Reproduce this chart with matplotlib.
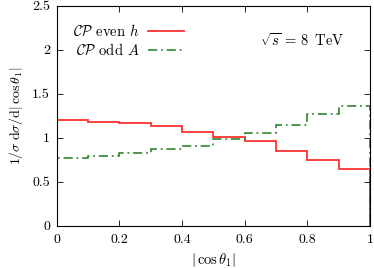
import matplotlib
matplotlib.use("Agg")
import matplotlib.pyplot as plt
import numpy as np

plt.rcParams['mathtext.fontset'] = 'cm'
plt.rcParams['font.family'] = ['cmr10', 'DejaVu Serif']
plt.rcParams['axes.formatter.use_mathtext'] = True

edges = [0.0, 0.1, 0.2, 0.3, 0.4, 0.5, 0.6, 0.7, 0.8, 0.9, 1.0]
cp_even_h = [1.205, 1.186, 1.17, 1.133, 1.072, 1.015, 0.97, 0.852, 0.75, 0.652]
cp_odd_A = [0.777, 0.80, 0.826, 0.879, 0.913, 0.989, 1.06, 1.148, 1.273, 1.367]
xticks = [0, 0.2, 0.4, 0.6, 0.8, 1]
xticklabels = ["0", "0.2", "0.4", "0.6", "0.8", "1"]
yticks = [0, 0.5, 1, 1.5, 2, 2.5]
yticklabels = ["0", "0.5", "1", "1.5", "2", "2.5"]

fig = plt.figure(figsize=(3.74, 2.68), dpi=100)
ax = fig.add_axes([0.152, 0.157, 0.837, 0.821])

ax.stairs(cp_even_h, edges, baseline=0, color='#ff3030', lw=1.3,
          label=r'$\mathcal{CP}$ even $h$')
ax.stairs(cp_odd_A, edges, baseline=0, color='#1f7a1f', lw=1.1,
          linestyle=(0, (6, 2.5, 1.2, 2.5)),
          label=r'$\mathcal{CP}$ odd $A$')

ax.set_xlim(0, 1)
ax.set_ylim(0, 2.5)
ax.set_xticks(xticks)
ax.set_xticklabels(xticklabels, fontsize=10)
ax.set_yticks(yticks)
ax.set_yticklabels(yticklabels, fontsize=10)
ax.tick_params(direction='in', top=True, right=True, length=4, width=0.6, pad=6)
ax.tick_params(axis='y', pad=5)
for s in ax.spines.values():
    s.set_linewidth(0.8)

ax.set_xlabel(r'$|\,\cos\theta_1|$', fontsize=10.5, labelpad=3)
ax.set_ylabel(r'$1/\sigma\;\mathrm{d}\sigma/\mathrm{d}|\,\cos\theta_1|$', fontsize=10, labelpad=5)

leg = ax.legend(loc='upper left', bbox_to_anchor=(0.051, 0.92), frameon=False,
                markerfirst=False, fontsize=10.5, handlelength=2.5,
                handletextpad=0.6, labelspacing=0.3, borderaxespad=0,
                borderpad=0)
for t in leg.get_texts():
    t.set_ha('right')

ax.text(0.648, 0.845, r'$\sqrt{s}\, =\, 8\;\; \mathrm{TeV}$', transform=ax.transAxes,
        fontsize=10.5, ha='left', va='center')

fig.savefig('out.png', dpi=100)
